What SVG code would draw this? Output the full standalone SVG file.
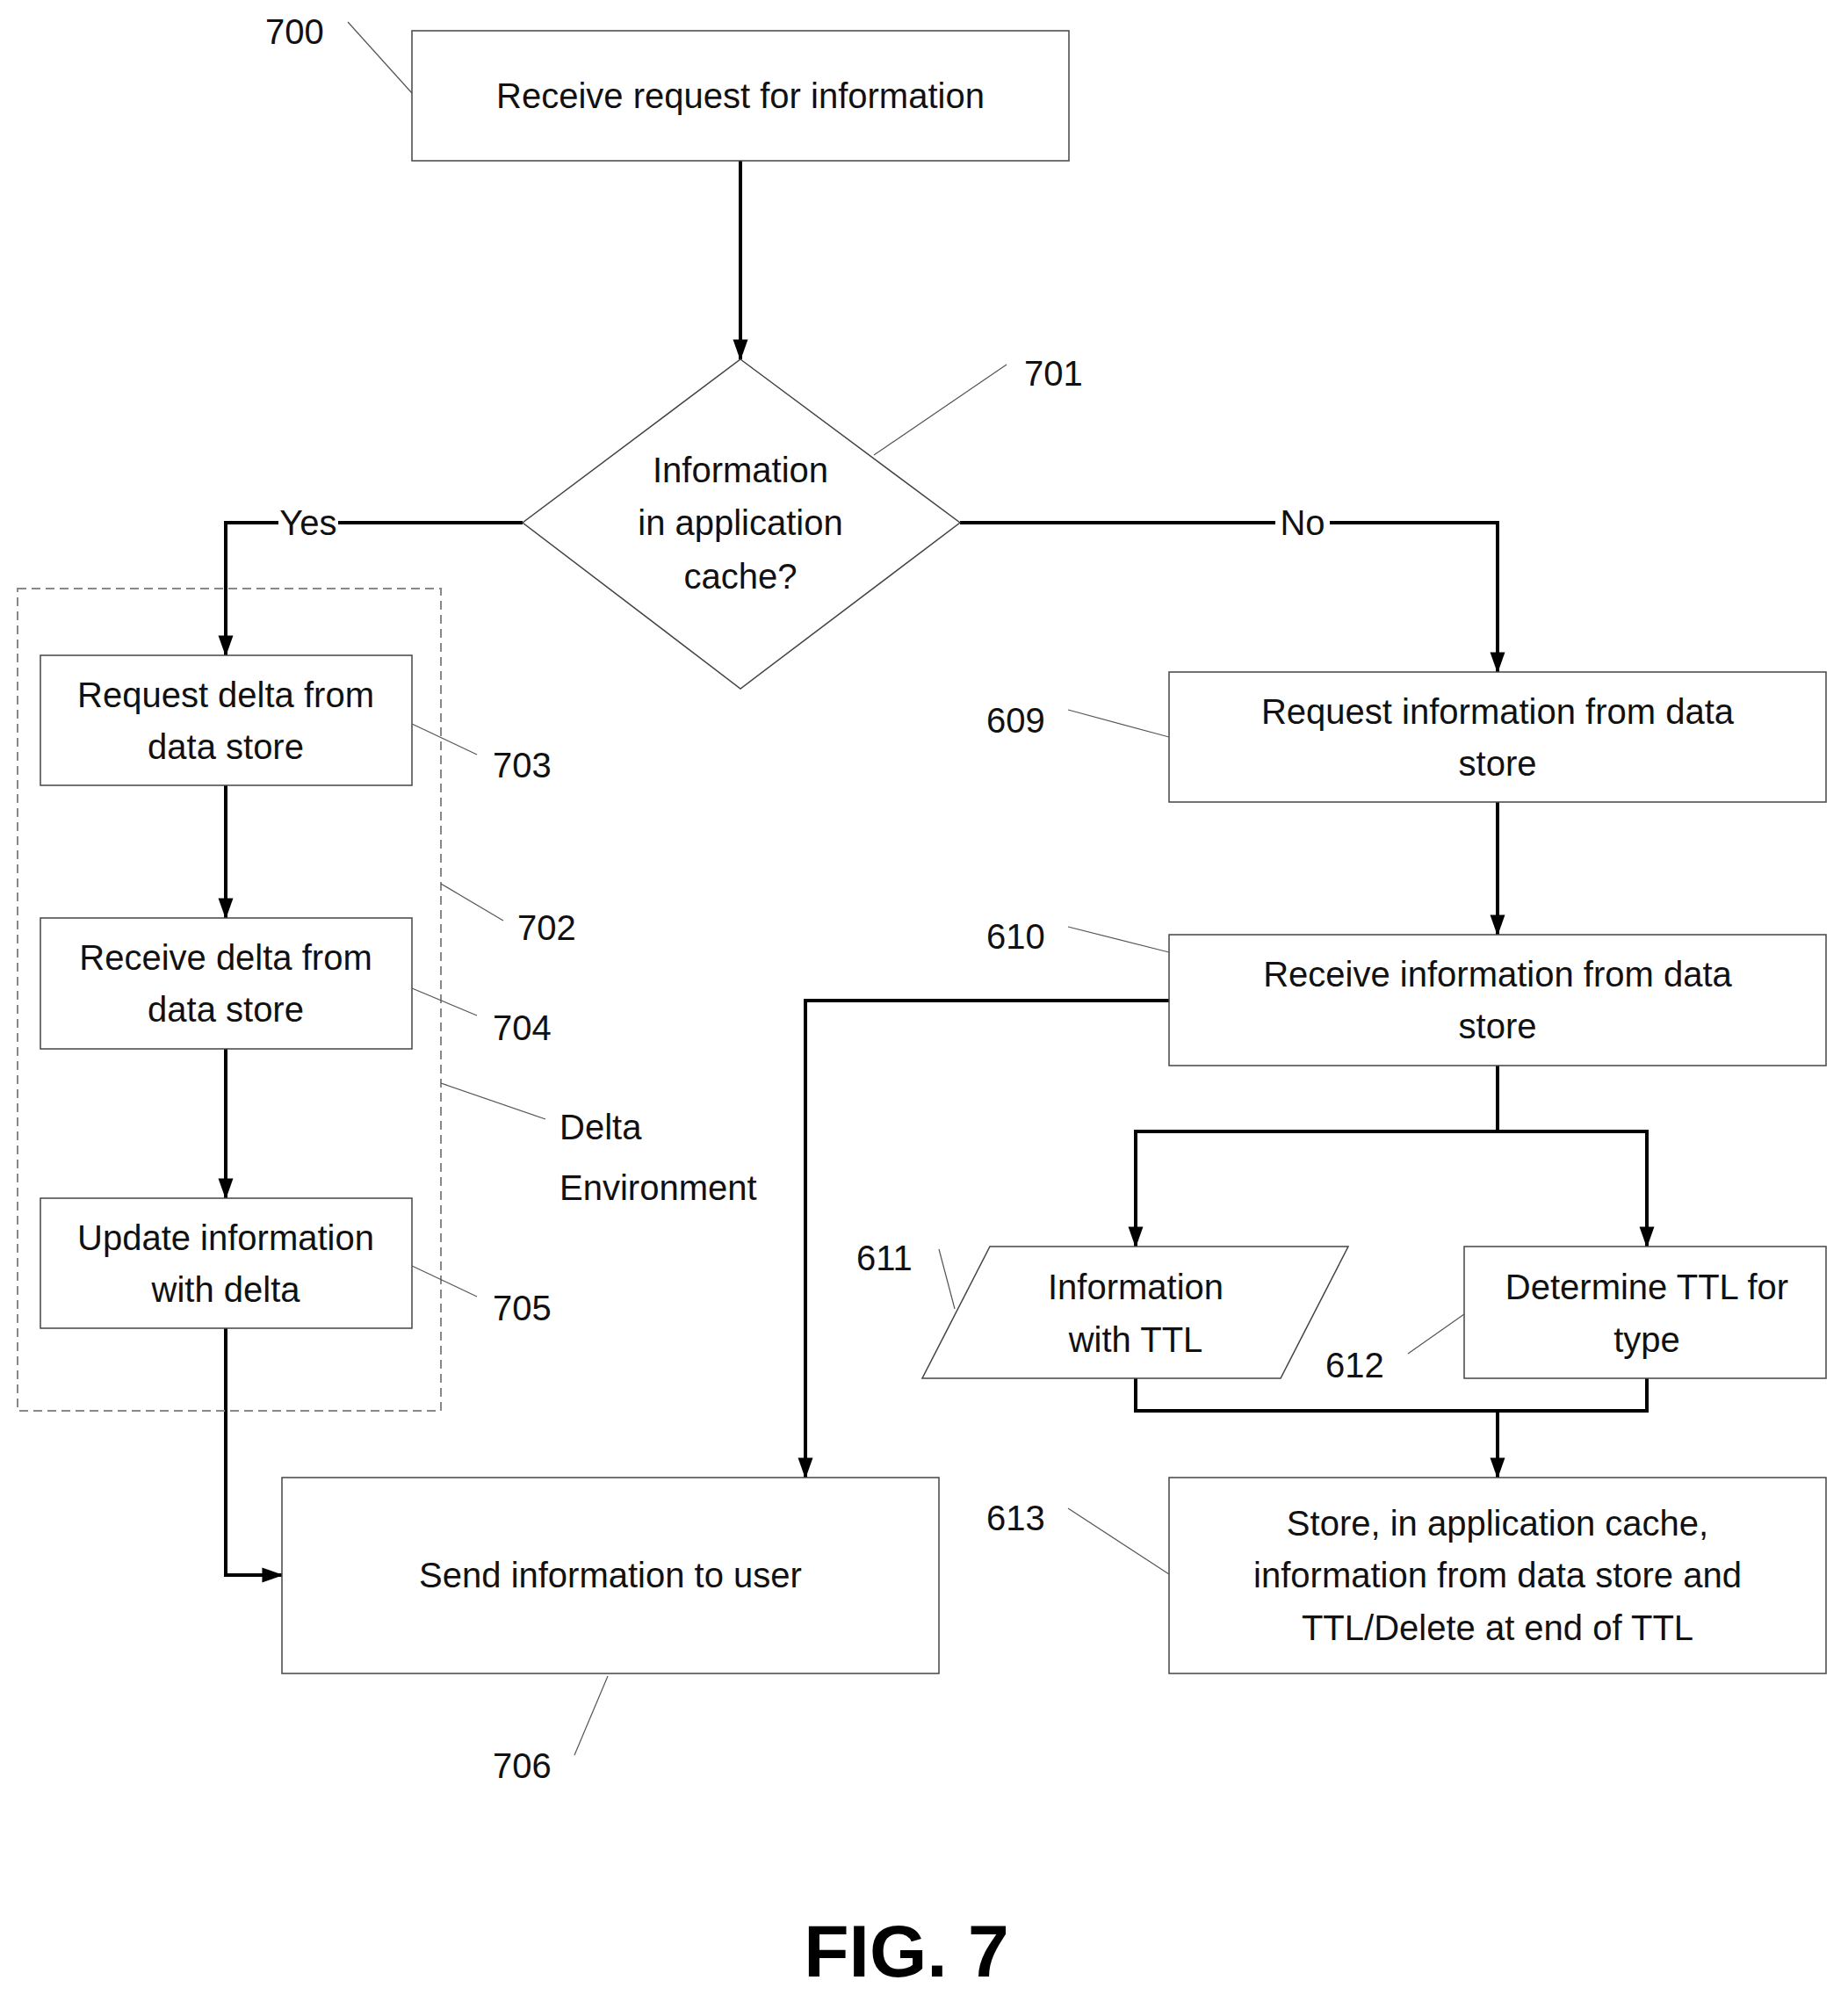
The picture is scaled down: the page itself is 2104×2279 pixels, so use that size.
<svg xmlns="http://www.w3.org/2000/svg" width="2104" height="2279" viewBox="0 0 2104 2279">
<style>
.b{fill:#fff;stroke:#444;stroke-width:1.5}
.t{font-family:"Liberation Sans",Arial,sans-serif;font-size:40px;fill:#111;text-anchor:middle}
.l{font-family:"Liberation Sans",Arial,sans-serif;font-size:40px;fill:#111}
.ld{stroke:#555;stroke-width:1.2;fill:none}
.c{stroke:#000;stroke-width:4;fill:none}
</style>
<defs>
<marker id="a" markerUnits="userSpaceOnUse" markerWidth="24" markerHeight="34" refX="32" refY="12" orient="auto" viewBox="0 0 34 24">
<path d="M0,0 L34,12 L0,24 z" fill="#000"/>
</marker>
</defs>
<rect x="0" y="0" width="2104" height="2279" fill="#fff"/>
<g id="connectors">
<line class="c" x1="843" y1="183" x2="843" y2="409" marker-end="url(#a)"/>
<path class="c" d="M595,595 H385 M317,595 H257 V746" marker-end="url(#a)"/>
<path class="c" d="M1093,595 H1452 M1514,595 H1705 V765" marker-end="url(#a)"/>
<line class="c" x1="257" y1="894" x2="257" y2="1045" marker-end="url(#a)"/>
<line class="c" x1="257" y1="1194" x2="257" y2="1364" marker-end="url(#a)"/>
<path class="c" d="M257,1512 V1793 H321" marker-end="url(#a)"/>
<line class="c" x1="1705" y1="913" x2="1705" y2="1064" marker-end="url(#a)"/>
<path class="c" d="M1331,1139 H917 V1682" marker-end="url(#a)"/>
<path class="c" d="M1705,1213 V1288"/>
<path class="c" d="M1293,1419 V1288 H1875 V1419" marker-end="url(#a)"/>
<line class="c" x1="1293" y1="1288" x2="1293" y2="1419" marker-end="url(#a)"/>
<path class="c" d="M1293,1569 V1606 H1875 V1569"/>
<line class="c" x1="1705" y1="1606" x2="1705" y2="1682" marker-end="url(#a)"/>
<text class="t" x="351" y="609">Yes</text>
<text class="t" x="1483" y="609">No</text>
</g>
<g id="n700"><rect class="b" x="469" y="35" width="748" height="148"/><text class="t" x="843" y="123">Receive request for information</text>
<line class="ld" x1="396" y1="25" x2="469" y2="106"/><text class="l" x="302" y="50">700</text></g>
<g id="n701"><polygon class="b" points="843,409 1093,595 843,784 595,595"/>
<text class="t" x="843" y="549">Information</text><text class="t" x="843" y="609">in application</text><text class="t" x="843" y="670">cache?</text>
<line class="ld" x1="995" y1="518" x2="1146" y2="415"/><text class="l" x="1166" y="439">701</text></g>
<g id="n702"><rect x="20" y="670" width="482" height="936" fill="none" stroke="#888" stroke-width="2" stroke-dasharray="10,6"/>
<line class="ld" x1="502" y1="1006" x2="573" y2="1048"/><text class="l" x="589" y="1070">702</text>
<line class="ld" x1="502" y1="1233" x2="621" y2="1274"/><text class="l" x="637" y="1297">Delta</text><text class="l" x="637" y="1366">Environment</text></g>
<g id="n703"><rect class="b" x="46" y="746" width="423" height="148"/><text class="t" x="257" y="805">Request delta from</text><text class="t" x="257" y="864">data store</text>
<line class="ld" x1="469" y1="824" x2="543" y2="859"/><text class="l" x="561" y="885">703</text></g>
<g id="n704"><rect class="b" x="46" y="1045" width="423" height="149"/><text class="t" x="257" y="1104">Receive delta from</text><text class="t" x="257" y="1163">data store</text>
<line class="ld" x1="469" y1="1125" x2="543" y2="1156"/><text class="l" x="561" y="1184">704</text></g>
<g id="n705"><rect class="b" x="46" y="1364" width="423" height="148"/><text class="t" x="257" y="1423">Update information</text><text class="t" x="257" y="1482">with delta</text>
<line class="ld" x1="469" y1="1441" x2="543" y2="1476"/><text class="l" x="561" y="1503">705</text></g>
<g id="n706"><rect class="b" x="321" y="1682" width="748" height="223"/><text class="t" x="695" y="1807">Send information to user</text>
<line class="ld" x1="692" y1="1908" x2="654" y2="1998"/><text class="l" x="561" y="2024">706</text></g>
<g id="n609"><rect class="b" x="1331" y="765" width="748" height="148"/><text class="t" x="1705" y="824">Request information from data</text><text class="t" x="1705" y="883">store</text>
<line class="ld" x1="1216" y1="808" x2="1331" y2="839"/><text class="l" x="1123" y="834">609</text></g>
<g id="n610"><rect class="b" x="1331" y="1064" width="748" height="149"/><text class="t" x="1705" y="1123">Receive information from data</text><text class="t" x="1705" y="1182">store</text>
<line class="ld" x1="1216" y1="1055" x2="1331" y2="1084"/><text class="l" x="1123" y="1080">610</text></g>
<g id="n611"><polygon class="b" points="1127,1419 1535,1419 1458,1569 1050,1569"/><text class="t" x="1293" y="1479">Information</text><text class="t" x="1293" y="1539">with TTL</text>
<line class="ld" x1="1069" y1="1422" x2="1087" y2="1490"/><text class="l" x="975" y="1446">611</text></g>
<g id="n612"><rect class="b" x="1667" y="1419" width="412" height="150"/><text class="t" x="1875" y="1479">Determine TTL for</text><text class="t" x="1875" y="1539">type</text>
<line class="ld" x1="1603" y1="1541" x2="1667" y2="1496"/><text class="l" x="1509" y="1568">612</text></g>
<g id="n613"><rect class="b" x="1331" y="1682" width="748" height="223"/><text class="t" x="1705" y="1748">Store, in application cache,</text><text class="t" x="1705" y="1807">information from data store and</text><text class="t" x="1705" y="1867">TTL/Delete at end of TTL</text>
<line class="ld" x1="1216" y1="1717" x2="1331" y2="1792"/><text class="l" x="1123" y="1742">613</text></g>
<text x="1032" y="2250" font-family="Liberation Sans,Arial,sans-serif" font-weight="bold" font-size="84" text-anchor="middle" fill="#000">FIG. 7</text>
</svg>
